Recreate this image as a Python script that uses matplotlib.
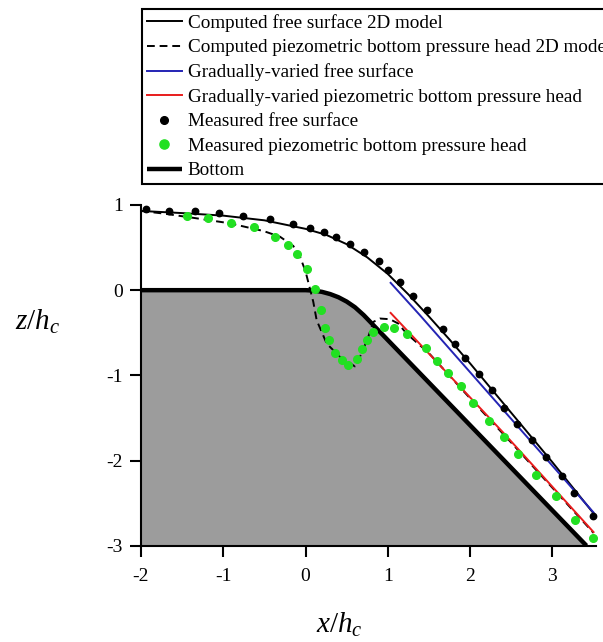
import matplotlib
matplotlib.use("Agg")
import matplotlib.pyplot as plt
import numpy as np

plt.rcParams['font.family'] = ['Liberation Serif', 'DejaVu Serif']
plt.rcParams['mathtext.fontset'] = 'custom'
plt.rcParams['mathtext.it'] = 'Liberation Serif:italic'
plt.rcParams['mathtext.rm'] = 'Liberation Serif'

# ---- data ----
# bottom profile (horizontal crest, circular transition, 45-degree chute)
bottom_x = [-2.0, 0.0, 0.1, 0.2, 0.3, 0.4, 0.5, 0.6, 0.707, 3.414]
bottom_y = [0.0, 0.0, -0.005, -0.020, -0.046, -0.083, -0.134, -0.200, -0.293, -3.0]

# computed free surface, 2D model
fs2d_x = [-2.0, -1.5, -1.0, -0.5, 0.0, 0.25, 0.5, 0.75, 1.0, 1.25, 1.5, 1.75, 2.0, 2.5, 3.0, 3.5]
fs2d_y = [0.93, 0.905, 0.875, 0.82, 0.72, 0.65, 0.54, 0.385, 0.19, -0.05, -0.31, -0.58, -0.86, -1.44, -2.02, -2.62]

# computed piezometric bottom pressure head, 2D model
pz2d_x = [-2.0, -1.73, -1.32, -0.92, -0.51, -0.31, -0.15, -0.07, 0.0, 0.05, 0.094, 0.135,
          0.257, 0.418, 0.6, 0.68, 0.762, 0.823, 0.904, 1.026, 1.127, 1.228, 1.5, 2.0, 2.5, 3.0, 3.5]
pz2d_y = [0.93, 0.90, 0.843, 0.785, 0.694, 0.627, 0.52, 0.40, 0.22, 0.03, -0.137, -0.353,
          -0.627, -0.784, -0.895, -0.745, -0.549, -0.373, -0.333, -0.341, -0.392, -0.51,
          -0.74, -1.27, -1.79, -2.32, -2.85]

# gradually-varied free surface
gv_fs_x = [1.034, 1.39, 2.27, 3.5]
gv_fs_y = [0.086, -0.294, -1.26, -2.61]

# gradually-varied piezometric bottom pressure head
gv_pz_x = [1.034, 2.4, 3.5]
gv_pz_y = [-0.267, -1.67, -2.84]

# measured free surface
mfs_x = [-1.94, -1.66, -1.34, -1.05, -0.757, -0.43, -0.153, 0.053, 0.23, 0.37, 0.54, 0.713,
         0.888, 0.997, 1.147, 1.309, 1.471, 1.666, 1.815, 1.937, 2.107, 2.269, 2.41, 2.573,
         2.755, 2.921, 3.112, 3.265, 3.496]
mfs_y = [0.953, 0.933, 0.929, 0.902, 0.874, 0.83, 0.776, 0.726, 0.685, 0.627, 0.541, 0.443,
         0.337, 0.235, 0.098, -0.071, -0.23, -0.46, -0.627, -0.796, -0.988, -1.176, -1.38,
         -1.568, -1.757, -1.961, -2.176, -2.385, -2.647]

# measured piezometric bottom pressure head
mpz_x = [-1.445, -1.18, -0.906, -0.627, -0.372, -0.218, -0.108, 0.013, 0.114, 0.183, 0.236,
         0.288, 0.357, 0.438, 0.519, 0.628, 0.682, 0.742, 0.815, 0.953, 1.078, 1.236, 1.463,
         1.593, 1.735, 1.884, 2.038, 2.228, 2.414, 2.577, 2.796, 3.039, 3.273, 3.496]
mpz_y = [0.874, 0.843, 0.792, 0.737, 0.627, 0.529, 0.424, 0.25, 0.012, -0.235, -0.45,
         -0.588, -0.737, -0.824, -0.882, -0.804, -0.686, -0.588, -0.49, -0.431, -0.439,
         -0.518, -0.675, -0.831, -0.97, -1.125, -1.322, -1.537, -1.718, -1.922, -2.165,
         -2.412, -2.694, -2.914]

x_ticks = [-2, -1, 0, 1, 2, 3]
y_ticks = [-3, -2, -1, 0, 1]

# ---- figure ----
fig = plt.figure(figsize=(6.03, 6.42), dpi=100)
ax = fig.add_axes([0.2338, 0.150, 0.7546, 0.5307])

ax.fill_between(bottom_x, bottom_y, -3, color='#9c9c9c', linewidth=0, zorder=1)

h_fs2d, = ax.plot(fs2d_x, fs2d_y, color='black', lw=1.4, zorder=3,
                  label='Computed free surface 2D model')
h_pz2d, = ax.plot(pz2d_x, pz2d_y, color='black', lw=1.4, dashes=[4, 2.5], zorder=3,
                  label='Computed piezometric bottom pressure head 2D model')
h_gvfs, = ax.plot(gv_fs_x, gv_fs_y, color='#2424b4', lw=1.4, zorder=4,
                  label='Gradually-varied free surface')
h_gvpz, = ax.plot(gv_pz_x, gv_pz_y, color='#e81c1c', lw=1.4, zorder=4,
                  label='Gradually-varied piezometric bottom pressure head')
h_mfs, = ax.plot(mfs_x, mfs_y, 'o', color='black', ms=4.6, zorder=5, clip_on=False,
                 label='Measured free surface')
h_mpz, = ax.plot(mpz_x, mpz_y, 'o', color='#22e022', ms=5.5, zorder=5, clip_on=False,
                 label='Measured piezometric bottom pressure head')
h_bot, = ax.plot(bottom_x, bottom_y, color='black', lw=3.2, zorder=2, solid_capstyle='butt',
                 label='Bottom')

ax.set_xlim(-2, 3.53)
ax.set_ylim(-3, 1)
ax.set_xticks(x_ticks)
ax.set_yticks(y_ticks)
ax.set_xticklabels([str(v) for v in x_ticks])
ax.set_yticklabels([str(v) for v in y_ticks])
ax.spines['top'].set_visible(False)
ax.spines['right'].set_visible(False)
for s in ('left', 'bottom'):
    ax.spines[s].set_linewidth(1.5)
ax.tick_params(axis='both', direction='out', length=8, width=1.5, labelsize=14)
ax.tick_params(axis='x', pad=8)
ax.tick_params(axis='y', pad=5)

ax.set_xlabel('$x/h_c$', fontsize=21)
ax.xaxis.set_label_coords(0.437, -0.233)
ax.xaxis.label.set_va('center')
ax.set_ylabel('$z/h_c$', fontsize=21, rotation=0, ha='center', va='center')
ax.yaxis.set_label_coords(-0.2275, 0.657)

leg = fig.legend(handles=[h_fs2d, h_pz2d, h_gvfs, h_gvpz, h_mfs, h_mpz, h_bot],
                 loc='upper left', bbox_to_anchor=(142.3 / 603, 1 - 9.3 / 642),
                 bbox_transform=fig.transFigure, borderaxespad=0, fontsize=13.8,
                 frameon=True, fancybox=False, edgecolor='black', framealpha=1,
                 labelspacing=0.37, handlelength=1.8, handletextpad=0.32,
                 borderpad=0.25, numpoints=1, markerscale=1.2)
leg.get_frame().set_linewidth(1.5)

fig.savefig('out.png', dpi=100)
